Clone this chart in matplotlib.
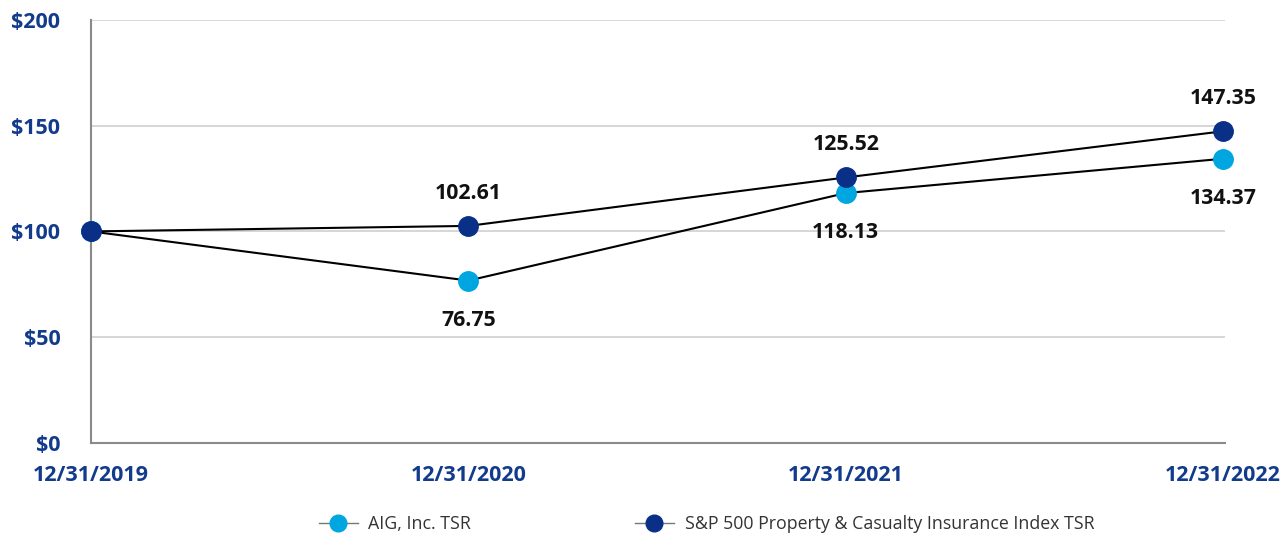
import matplotlib.pyplot as plt

# data
dates = ["12/31/2019", "12/31/2020", "12/31/2021", "12/31/2022"]
aig = [100, 76.75, 118.13, 134.37]
snp = [100, 102.61, 125.52, 147.35]
aig_labels = ["", "76.75", "118.13", "134.37"]
snp_labels = ["", "102.61", "125.52", "147.35"]
yticks = [0, 50, 100, 150, 200]

navy = "#0a2f87"
light = "#00a6e0"
label_col = "#123b8c"

plt.rcParams['font.family'] = ['Open Sans', 'DejaVu Sans']

fig = plt.figure(figsize=(12.82, 5.33), dpi=100)
ax = fig.add_axes([0.071, 0.169, 0.8845, 0.7936])

x = list(range(len(dates)))
ax.plot(x, aig, color="black", lw=1.5, marker="o", ms=14,
        mfc=light, mec=light, zorder=3, clip_on=False, label="AIG, Inc. TSR")
ax.plot(x, snp, color="black", lw=1.5, marker="o", ms=14,
        mfc=navy, mec=navy, zorder=4, clip_on=False,
        label="S&P 500 Property & Casualty Insurance Index TSR")

for xi, v, t in zip(x, snp, snp_labels):
    if t:
        ax.annotate(t, (xi, v), xytext=(0, 16), textcoords="offset points",
                    ha="center", va="bottom", fontsize=15.3, fontweight="bold", color="#111111")
for xi, v, t in zip(x, aig, aig_labels):
    if t:
        ax.annotate(t, (xi, v), xytext=(0, -21), textcoords="offset points",
                    ha="center", va="top", fontsize=15.3, fontweight="bold", color="#111111")

ax.set_xlim(0, 3.005)
ax.set_ylim(0, 200)
ax.set_yticks(yticks)
ax.set_yticklabels(["$%d" % v for v in yticks])
ax.set_xticks(x)
ax.set_xticklabels(dates)
ax.tick_params(axis="both", length=0, labelsize=15.5, labelcolor=label_col)
ax.tick_params(axis="y", pad=22)
ax.tick_params(axis="x", pad=16)
for lab in ax.get_xticklabels() + ax.get_yticklabels():
    lab.set_fontweight("bold")

ax.grid(axis="y", color="#d0d0d0", lw=1.2)
ax.set_axisbelow(True)
for s in ["top", "right"]:
    ax.spines[s].set_visible(False)
for s in ["left", "bottom"]:
    ax.spines[s].set_color("#8a8a8a")
    ax.spines[s].set_linewidth(1.5)

h1 = plt.Line2D([], [], color="#777777", lw=1, marker="o", ms=12, mfc=light, mec=light)
h2 = plt.Line2D([], [], color="#777777", lw=1, marker="o", ms=12, mfc=navy, mec=navy)
fig.legend([h1, h2], ["AIG, Inc. TSR", "S&P 500 Property & Casualty Insurance Index TSR"],
           loc="center", bbox_to_anchor=(0.551, 0.017), ncol=2, frameon=False,
           fontsize=12.8, labelcolor="#333333", handlelength=2.2, columnspacing=9.2,
           handletextpad=0.6)

fig.savefig("out.png", dpi=100)
